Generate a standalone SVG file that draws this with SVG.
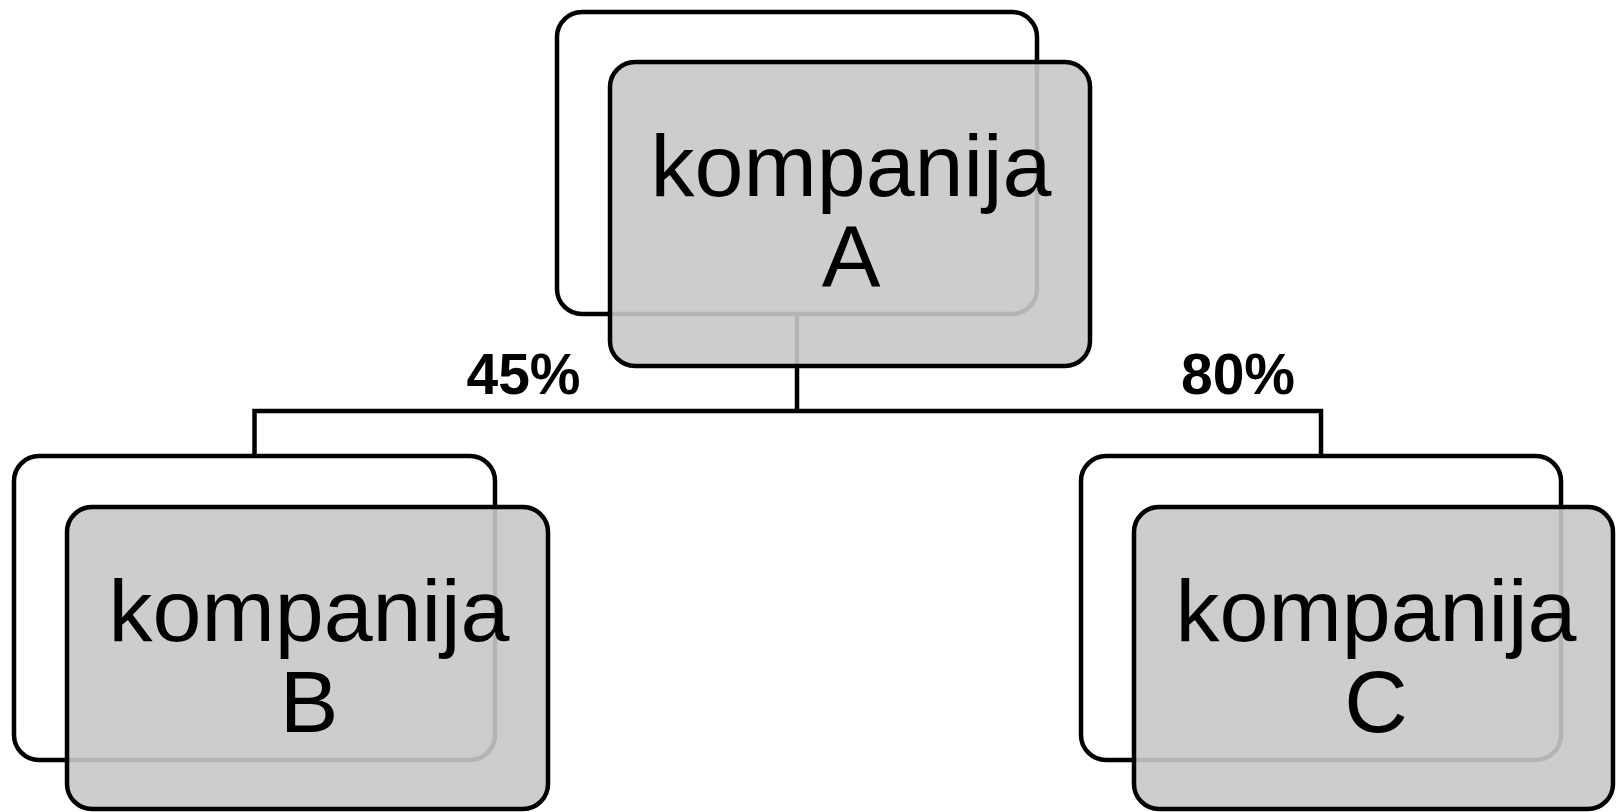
<svg xmlns="http://www.w3.org/2000/svg" width="1616" height="812" viewBox="0 0 1616 812">
  <style>
    .back { fill: #ffffff; stroke: #000000; stroke-width: 4.5; }
    .front { fill: #c8c8c8; fill-opacity: 0.9; stroke: #000000; stroke-width: 4.5; }
    .conn { fill: none; stroke: #000000; stroke-width: 4.5; stroke-linejoin: miter; }
    .name { font-family: "Liberation Sans", Arial, sans-serif; font-size: 88px; fill: #000000; text-anchor: middle; }
    .pct { font-family: "Liberation Sans", Arial, sans-serif; font-size: 57px; font-weight: bold; fill: #000000; text-anchor: middle; }
  </style>
  <rect width="1616" height="812" fill="#ffffff"/>

  <g id="back-shapes">
    <rect class="back" x="557" y="12" width="480" height="302" rx="25" ry="25"/>
    <rect class="back" x="14" y="456" width="481" height="304" rx="25" ry="25"/>
    <rect class="back" x="1081" y="456" width="480" height="304" rx="25" ry="25"/>
  </g>

  <g id="connectors">
    <path class="conn" d="M797 314 V411 M254.5 456 V411 H1321 V456"/>
    <text class="pct" x="523.5" y="394">45%</text>
    <text class="pct" x="1238" y="394">80%</text>
  </g>

  <g id="node-a">
    <rect class="front" x="610" y="62" width="480" height="304" rx="25" ry="25"/>
    <text class="name" x="851" y="196">kompanija</text>
    <text class="name" x="851" y="287">A</text>
  </g>

  <g id="node-b">
    <rect class="front" x="67" y="507" width="481" height="302" rx="25" ry="25"/>
    <text class="name" x="309" y="641">kompanija</text>
    <text class="name" x="309" y="732">B</text>
  </g>

  <g id="node-c">
    <rect class="front" x="1134" y="507" width="479" height="302" rx="25" ry="25"/>
    <text class="name" x="1376" y="641">kompanija</text>
    <text class="name" x="1376" y="732">C</text>
  </g>
</svg>
